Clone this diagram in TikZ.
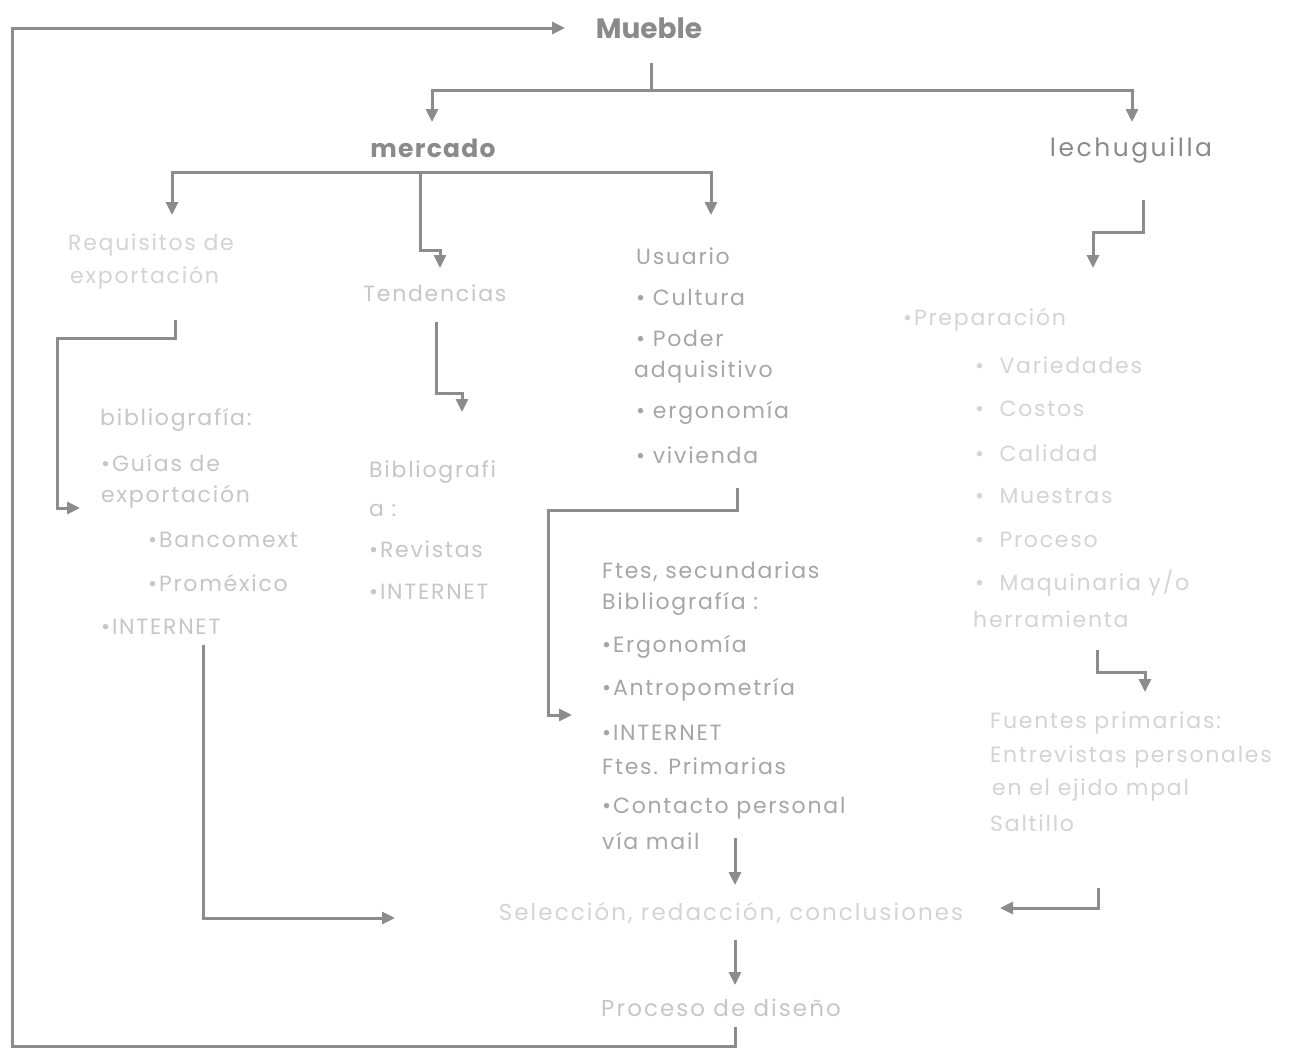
\documentclass[tikz,border=0pt]{standalone}
\usepackage{fontspec}
\setmainfont{Poppins}
\usetikzlibrary{arrows.meta}
\definecolor{ln}{HTML}{8C8C8C}
\definecolor{hd}{HTML}{8A8A8A}
\definecolor{md}{HTML}{A6A6A6}
\definecolor{lt}{HTML}{C6C6C6}
\definecolor{vl}{HTML}{D4D4D4}
\newcommand{\txtfont}{\fontsize{22}{25}\selectfont\addfontfeatures{LetterSpace=8}}
\begin{document}
\begin{tikzpicture}[x=1pt,y=-1pt,
  conn/.style={draw=ln,line width=3pt},
  arr/.style={conn,-{Triangle[length=13pt,width=12pt]}},
  head/.style={anchor=center,text=hd,inner sep=0},
  txt/.style={anchor=west,inner sep=0,font=\txtfont},
  ctxt/.style={anchor=center,inner sep=0,font=\fontsize{23}{26}\selectfont\addfontfeatures{LetterSpace=9}},
]
\useasboundingbox[fill=white] (0,0) rectangle (1290,1050);

% headings
\node[head,font=\fontsize{28}{30}\selectfont\bfseries] (mb) at (649,28) {Mueble};
\node[head,font=\fontsize{25}{28}\selectfont\bfseries\addfontfeatures{LetterSpace=5}] (mer) at (433,148) {mercado};
\node[head,font=\fontsize{25}{28}\selectfont\addfontfeatures{LetterSpace=10}] (lec) at (1131,150) {lechuguilla};

% left column
\node[txt,text=vl] (req1) at (68,245) {Requisitos de};
\node[txt,text=vl] (req2) at (70,278) {exportación};
\node[txt,text=lt] (bib) at (100,420) {bibliografía:};
\node[txt,text=lt] (gu1) at (101,463) {•Guías de};
\node[txt,text=lt] (gu2) at (101,497) {exportación};
\node[txt,text=lt] (ban) at (148,540) {•Bancomext};
\node[txt,text=lt] (pro) at (148,583) {•Proméxico};
\node[txt,text=lt] (int1) at (101,627) {•INTERNET};

% tendencias column
\node[txt,text=lt] (ten) at (363,293) {Tendencias};
\node[txt,text=lt] (bb1) at (369,472) {Bibliografi};
\node[txt,text=lt] (bb2) at (369,510) {a :};
\node[txt,text=lt] (rev) at (369,549) {•Revistas};
\node[txt,text=lt] (int2) at (369,592) {•INTERNET};

% usuario column
\node[txt,text=md] (us) at (636,256) {Usuario};
\node[txt,text=md] (cu) at (636,297) {• Cultura};
\node[txt,text=md] (po1) at (636,338) {• Poder};
\node[txt,text=md] (po2) at (634,372) {adquisitivo};
\node[txt,text=md] (er) at (636,413) {• ergonomía};
\node[txt,text=md] (vi) at (636,455) {• vivienda};

% fuentes column
\node[txt,text=md] (f1) at (602,572) {Ftes, secundarias};
\node[txt,text=md] (f2) at (602,604) {Bibliografía :};
\node[txt,text=md] (f3) at (602,647) {•Ergonomía};
\node[txt,text=md] (f4) at (602,690) {•Antropometría};
\node[txt,text=md] (f5) at (602,733) {•INTERNET};
\node[txt,text=md] (f6) at (602,766) {Ftes. Primarias};
\node[txt,text=md] (f7) at (602,808) {•Contacto personal};
\node[txt,text=md] (f8) at (602,841) {vía mail};

% lechuguilla column
\node[txt,text=vl] (pre) at (903,320) {•Preparación};
\node[txt,text=vl] (l1) at (975,365) {•\ \ Variedades};
\node[txt,text=vl] (l2) at (975,409) {•\ \ Costos};
\node[txt,text=vl] (l3) at (975,453) {•\ \ Calidad};
\node[txt,text=vl] (l4) at (975,496) {•\ \ Muestras};
\node[txt,text=vl] (l5) at (975,540) {•\ \ Proceso};
\node[txt,text=vl] (l6) at (975,583) {•\ \ Maquinaria y/o};
\node[txt,text=vl] (l7) at (973,619) {herramienta};
\node[txt,text=vl] (fp1) at (990,723) {Fuentes primarias:};
\node[txt,text=vl] (fp2) at (990,757) {Entrevistas personales};
\node[txt,text=vl] (fp3) at (992,790) {en el ejido mpal};
\node[txt,text=vl] (fp4) at (990,823) {Saltillo};

% bottom
\node[ctxt,text=vl] (sel) at (731,913) {Selección, redacción, conclusiones};
\node[ctxt,text=lt] (pd) at (721,1008) {Proceso de diseño};

% connector end points
\coordinate (mbo) at (651,63);
\coordinate (mbj) at (651,90);
\coordinate (mero) at (420,172);
\coordinate (reqo) at (175,320);
\coordinate (into) at (203,645);
\coordinate (teno) at (436,322);
\coordinate (viio) at (737,488);
\coordinate (f8o) at (735,838);
\coordinate (selo) at (735,940);
\coordinate (pdo) at (735,1027);
\coordinate (fpo) at (1098,888);
\coordinate (leco) at (1143,200);
\coordinate (l7o) at (1097,650);

% connectors
\draw[arr] (pdo) -- (735,1046) -| (12,28) -- (565,28);
\draw[arr] (mbo) -- (mbj) -| (432,122);
\draw[arr] (mbj) -| (1132,122);
\draw[arr] (mero) -| (172,215);
\draw[arr] (mero) -| (711,215);
\draw[arr] (mero) -- (420,250) -| (440,268);
\draw[arr] (reqo) -- (175,338) -| (57,508) -- (80,508);
\draw[arr] (into) |- (395,918);
\draw[arr] (teno) |- (462,393) -- (462,412);
\draw[arr] (viio) -- (737,510) -| (548,715) -- (572,715);
\draw[arr] (f8o) -- (735,885);
\draw[arr] (selo) -- (735,985);
\draw[arr] (fpo) |- (1000,908);
\draw[arr] (leco) |- (1093,232) -- (1093,268);
\draw[arr] (l7o) |- (1145,672) -- (1145,692);
\end{tikzpicture}
\end{document}
